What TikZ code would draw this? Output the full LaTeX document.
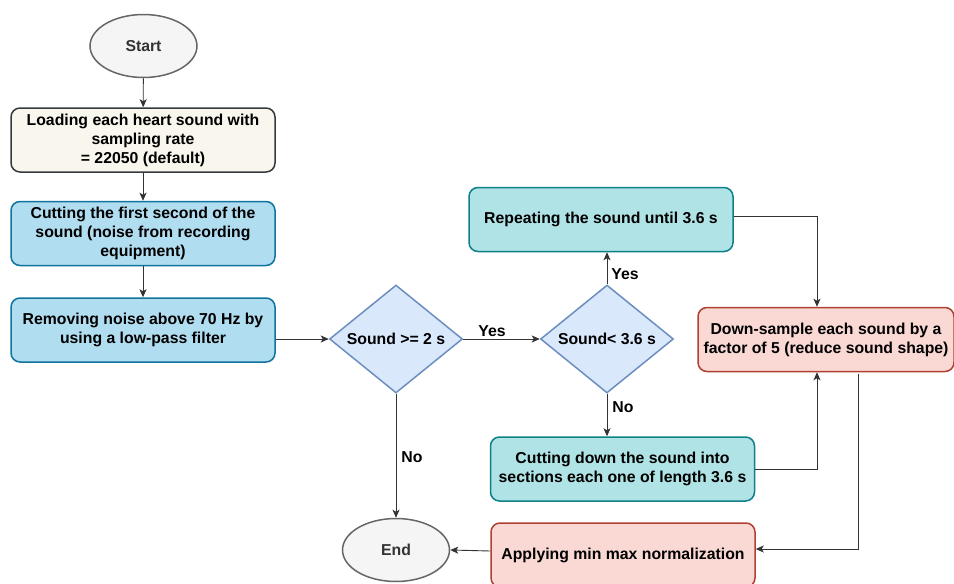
\documentclass[tikz,border=0pt]{standalone}
\usepackage{fontspec}
\setmainfont{Liberation Sans}
\usetikzlibrary{shapes.geometric,arrows.meta}
\definecolor{termfill}{HTML}{F5F5F5}
\definecolor{termline}{HTML}{666666}
\definecolor{termtext}{HTML}{333333}
\definecolor{loadfill}{HTML}{F9F7ED}
\definecolor{loadline}{HTML}{36393D}
\definecolor{bluefill}{HTML}{B1DDF0}
\definecolor{blueline}{HTML}{10739E}
\definecolor{decfill}{HTML}{DAE8FC}
\definecolor{decline}{HTML}{6C8EBF}
\definecolor{tealfill}{HTML}{B0E3E6}
\definecolor{tealline}{HTML}{0E8088}
\definecolor{redfill}{HTML}{FAD9D5}
\definecolor{redline}{HTML}{AE4132}
\begin{document}
\begin{tikzpicture}[x=1pt,y=1pt]
            \tikzstyle{every node}+=[inner sep=0pt, align=center, font=\bfseries\fontsize{15.8}{19}\selectfont]
            \tikzstyle{term}=[ellipse, draw=termline, fill=termfill, text=termtext, line width=1.5pt, minimum width=107, minimum height=63]
            \tikzstyle{stepbox}=[rectangle, rounded corners=9pt, line width=1.5pt, minimum width=264, minimum height=64]
            \tikzstyle{decision}=[diamond, aspect=1.22, draw=decline, fill=decfill, line width=1.5pt, minimum width=133, minimum height=108]
            \tikzstyle{link}=[draw=termtext, line width=0.9pt, -{Stealth[length=8pt,width=7pt,inset=2pt]}]
            \useasboundingbox (0,0) rectangle (954,-584);
            % left column
            \node [term] (start) at (143.5,-46) {Start};
            \node [stepbox, draw=loadline, fill=loadfill] (load) at (143,-140) {Loading each heart sound with\\sampling rate\\= 22050 (default)};
            \node [stepbox, draw=blueline, fill=bluefill] (cutfirst) at (143,-233.5) {Cutting the first second of the\\sound (noise from recording\\equipment)};
            \node [stepbox, draw=blueline, fill=bluefill] (lowpass) at (143,-330) {Removing noise above 70 Hz by\\using a low-pass filter};
            % decisions
            \node [decision] (longer) at (396,-339) {Sound >= 2 s};
            \node [decision] (shorter) at (607,-339) {Sound< 3.6 s};
            \node [stepbox, draw=tealline, fill=tealfill] (repeat) at (601,-219.5) {Repeating the sound until 3.6 s};
            \node [stepbox, draw=tealline, fill=tealfill] (split) at (622.5,-469) {Cutting down the sound into\\sections each one of length 3.6 s};
            % right side
            \node [stepbox, draw=redline, fill=redfill, minimum width=256] (downsample) at (826,-339.5) {Down-sample each sound by a\\factor of 5 (reduce sound shape)};
            \node [stepbox, draw=redline, fill=redfill] (minmax) at (623,-555) {Applying min max normalization};
            \node [term] (end) at (396,-550) {End};
            % connectors
            \draw [link] (start) -- (load);
            \draw [link] (load) -- (cutfirst);
            \draw [link] (cutfirst) -- (lowpass);
            \draw [link] (lowpass.east |- longer.west) -- (longer.west);
            \draw [link] (longer.east) -- (shorter.west);
            \draw [link] (shorter.north) -- (shorter.north |- repeat.south);
            \draw [link] (shorter.south) -- (shorter.south |- split.north);
            \draw [link] (longer.south) -- (end.north);
            \draw [link] ([yshift=3pt]repeat.east) -| ([xshift=-9pt]downsample.north);
            \draw [link] (split.east) -| ([xshift=-9pt]downsample.south);
            \draw [link] ([xshift=32pt,yshift=-2pt]downsample.south) |- ([yshift=6pt]minmax.east);
            \draw [link] ([yshift=4pt]minmax.west) -- (end.east);
            % labels
            \node (yeslong) at (492,-331) {Yes};
            \node (yesshort) at (625,-274) {Yes};
            \node (noshort) at (623,-407) {No};
            \node (nolong) at (412,-457) {No};
\end{tikzpicture}
\end{document}
